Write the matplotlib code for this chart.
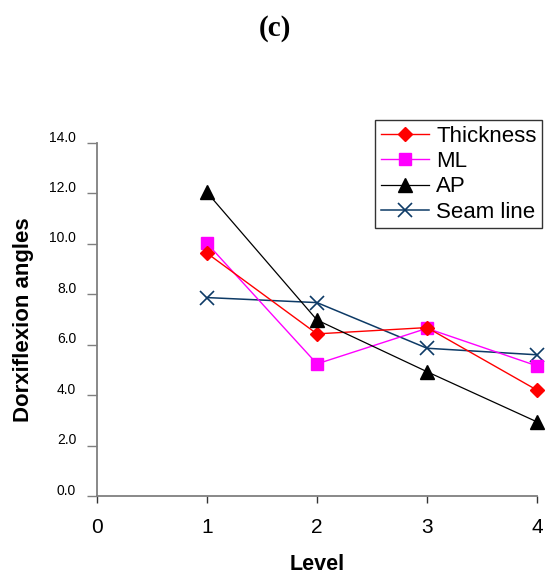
import matplotlib
matplotlib.use("Agg")
import matplotlib.pyplot as plt
import matplotlib.transforms as mtransforms

plt.rcParams["font.family"] = ["Liberation Sans", "DejaVu Sans"]

levels = [1, 2, 3, 4]
thickness = [9.63, 6.43, 6.68, 4.20]
ml = [10.02, 5.24, 6.65, 5.16]
ap = [12.04, 6.98, 4.93, 2.94]
seam_line = [7.87, 7.67, 5.86, 5.60]

x_ticks = [0, 1, 2, 3, 4]
y_ticks = [0, 2, 4, 6, 8, 10, 12, 14]

AXIS_GREY = "#7f7f7f"

fig = plt.figure(figsize=(5.49, 5.84), dpi=100)
ax = fig.add_axes([97 / 549, 1 - 496 / 584, 440 / 549, 353 / 584])

ax.plot(levels, thickness, color="#ff0000", lw=1.0, marker="D", ms=7.5,
        label="Thickness", clip_on=False, zorder=4)
ax.plot(levels, ml, color="#ff00ff", lw=1.0, marker="s", ms=8.5,
        label="ML", clip_on=False, zorder=3)
ax.plot(levels, ap, color="#000000", lw=0.9, marker="^", ms=9.5,
        label="AP", clip_on=False, zorder=5)
ax.plot(levels, seam_line, color="#0d3a66", lw=1.1, marker="x", ms=10,
        mew=1.2, label="Seam line", clip_on=False, zorder=2)

ax.set_xlim(0, 4)
ax.set_ylim(0, 14)
ax.set_xticks(x_ticks)
ax.set_yticks(y_ticks)
ax.set_yticklabels([f"{v:.1f}" for v in y_ticks])

for side in ("top", "right"):
    ax.spines[side].set_visible(False)
for side in ("left", "bottom"):
    ax.spines[side].set_color(AXIS_GREY)
    ax.spines[side].set_linewidth(1.3)

ax.tick_params(axis="y", direction="out", length=7, width=1.0,
               color=AXIS_GREY, labelsize=10, pad=8)
ax.tick_params(axis="x", direction="out", length=5, width=1.0,
               color="#333333", labelsize=15, pad=11)

# y tick labels sit a little above their ticks
shift = mtransforms.ScaledTranslation(0, 5 / 72, fig.dpi_scale_trans)
for lbl in ax.get_yticklabels():
    lbl.set_transform(lbl.get_transform() + shift)

ax.set_xlabel("Level", fontsize=15.5, fontweight="bold", labelpad=12)
ax.set_ylabel("Dorxiflexion angles", fontsize=16, fontweight="bold", labelpad=11)

fig.text(0.5, 1 - 29 / 584, "(c)", ha="center", va="center",
         fontsize=21, fontweight="bold", family="Liberation Serif")

leg = ax.legend(loc="upper right", bbox_to_anchor=(542 / 549, 1 - 120 / 584),
                bbox_transform=fig.transFigure, fontsize=16, frameon=True,
                fancybox=False, edgecolor="#000000", borderpad=0.25,
                labelspacing=0.2, handlelength=2.2, handletextpad=0.3,
                borderaxespad=0)
leg.get_frame().set_linewidth(1.0)

fig.savefig("out.png", dpi=100)
